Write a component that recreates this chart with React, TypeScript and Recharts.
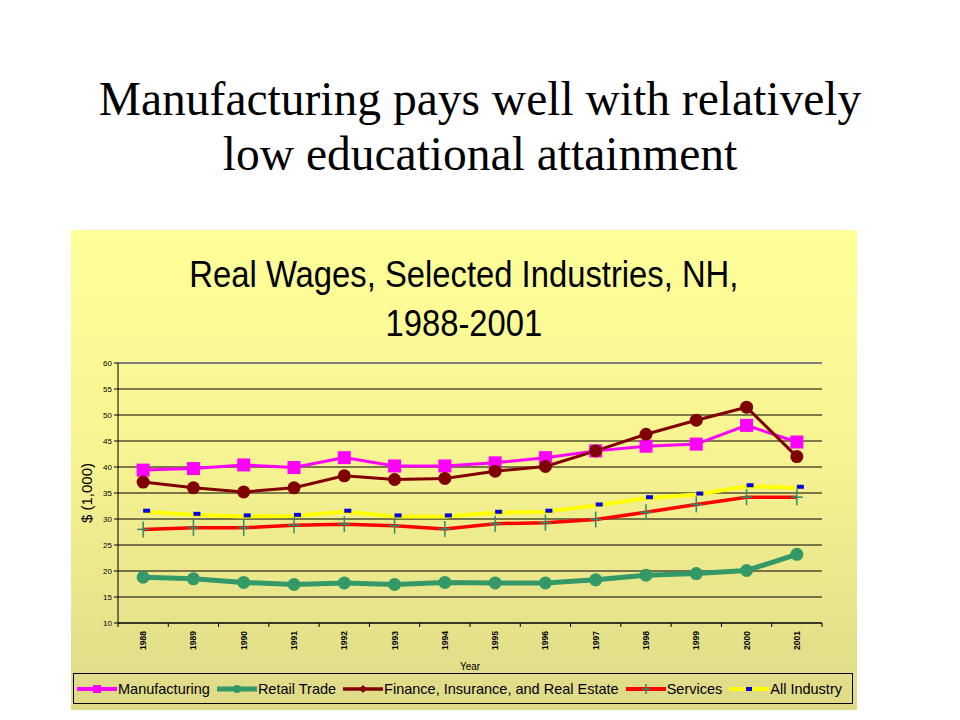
import React from 'react';
import {
  ComposedChart,
  Line,
  XAxis,
  YAxis,
  CartesianGrid,
  ReferenceLine,
  Legend,
  Label,
} from 'recharts';

const years = ['1988', '1989', '1990', '1991', '1992', '1993', '1994', '1995', '1996', '1997', '1998', '1999', '2000', '2001'];
const manufacturing = [39.4, 39.7, 40.4, 39.9, 41.8, 40.2, 40.2, 40.8, 41.8, 43.1, 44.0, 44.4, 48.0, 44.8];
const retailTrade = [18.8, 18.5, 17.8, 17.4, 17.7, 17.4, 17.8, 17.7, 17.7, 18.3, 19.2, 19.5, 20.1, 23.2];
const finance = [37.1, 36.0, 35.2, 36.0, 38.3, 37.6, 37.8, 39.2, 40.1, 43.1, 46.3, 49.0, 51.5, 42.0];
const services = [28.0, 28.3, 28.3, 28.8, 29.0, 28.7, 28.1, 29.1, 29.3, 29.9, 31.3, 32.8, 34.2, 34.2];
const allIndustry = [31.4, 30.8, 30.5, 30.6, 31.4, 30.5, 30.5, 31.2, 31.4, 32.6, 34.0, 34.7, 36.3, 36.0];
const yTicks = [10, 15, 20, 25, 30, 35, 40, 45, 50, 55, 60];

const data = years.map((year, i) => ({
  year,
  manufacturing: manufacturing[i],
  retailTrade: retailTrade[i],
  finance: finance[i],
  services: services[i],
  allIndustry: allIndustry[i],
}));

const SANS = '"Liberation Sans", Arial, sans-serif';
const SERIF = '"Liberation Serif", "Times New Roman", serif';

const CHART_W = 786;
const CHART_H = 480;
const MARGIN = { top: 133, right: 35, bottom: 47, left: 17 };
const Y_AXIS_W = 30;
const PLOT_W = CHART_W - MARGIN.left - MARGIN.right - Y_AXIS_W;
const HALF_BAND = PLOT_W / years.length / 2;

const C_MAN = '#FF00FF';
const C_RET = '#339966';
const C_FIN = '#800000';
const C_SER = '#FF0000';
const C_ALL = '#FFFF00';
const C_PLUS = '#2E8B6E';
const C_DASH = '#0000EE';

const SquareDot = (props: any) => {
  const { cx, cy, index } = props;
  if (cx == null || cy == null) return <g key={`s-${index}`} />;
  return <rect key={`s-${index}`} x={cx - 6.5} y={cy - 6.5} width={13} height={13} fill={C_MAN} />;
};

const makeCircleDot = (color: string, r: number) => (props: any) => {
  const { cx, cy, index } = props;
  if (cx == null || cy == null) return <g key={`c-${color}-${index}`} />;
  return <circle key={`c-${color}-${index}`} cx={cx} cy={cy} r={r} fill={color} />;
};

const PlusDot = (props: any) => {
  const { cx, cy, index } = props;
  if (cx == null || cy == null) return <g key={`p-${index}`} />;
  return (
    <g key={`p-${index}`}>
      <line x1={cx - 6} x2={cx + 6} y1={cy} y2={cy} stroke={C_PLUS} strokeWidth={1.5} />
      <line x1={cx} x2={cx} y1={cy - 8} y2={cy + 8} stroke={C_PLUS} strokeWidth={1.5} />
    </g>
  );
};

const DashDot = (props: any) => {
  const { cx, cy, index } = props;
  if (cx == null || cy == null) return <g key={`d-${index}`} />;
  return <rect key={`d-${index}`} x={cx} y={cy - 3} width={7} height={4} fill={C_DASH} />;
};

const XTick = (props: any) => {
  const { x, y, payload, index } = props;
  const top = y - 8;
  return (
    <g>
      <line x1={x - HALF_BAND} x2={x - HALF_BAND} y1={top} y2={top + 4} stroke="#000" strokeWidth={1} />
      {index === years.length - 1 && (
        <line x1={x + HALF_BAND} x2={x + HALF_BAND} y1={top} y2={top + 4} stroke="#000" strokeWidth={1} />
      )}
      <text
        x={x}
        y={top + 8}
        transform={`rotate(-90 ${x} ${top + 8})`}
        textAnchor="end"
        dominantBaseline="central"
        fontFamily={SANS}
        fontSize={8.5}
        fontWeight="bold"
        fill="#000"
      >
        {payload.value}
      </text>
    </g>
  );
};

const YLabel = (props: any) => {
  const vb = props.viewBox || {};
  const cx = (vb.x ?? 0) - 2;
  const cy = (vb.y ?? 0) + (vb.height ?? 0) / 2;
  return (
    <text
      x={cx}
      y={cy}
      transform={`rotate(-90 ${cx} ${cy})`}
      textAnchor="middle"
      dominantBaseline="central"
      fontFamily={SANS}
      fontSize={15}
      fill="#000"
    >
      $ (1,000)
    </text>
  );
};

const legendItems = [
  { name: 'Manufacturing', color: C_MAN, width: 4, marker: 'square' },
  { name: 'Retail Trade', color: C_RET, width: 5, marker: 'circle' },
  { name: 'Finance, Insurance, and Real Estate', color: C_FIN, width: 3.5, marker: 'diamond' },
  { name: 'Services', color: C_SER, width: 4, marker: 'plus' },
  { name: 'All Industry', color: C_ALL, width: 4, marker: 'dash' },
];

const LegendMarker = ({ item }: { item: any }) => {
  const w = 40;
  const cy = 8;
  const cx = w / 2;
  let marker: React.ReactNode = null;
  if (item.marker === 'square') marker = <rect x={cx - 4} y={cy - 4} width={8} height={8} fill={C_MAN} />;
  if (item.marker === 'circle') marker = <circle cx={cx} cy={cy} r={4} fill={C_RET} />;
  if (item.marker === 'diamond') marker = <polygon points={`${cx},${cy - 4} ${cx + 4},${cy} ${cx},${cy + 4} ${cx - 4},${cy}`} fill={C_FIN} />;
  if (item.marker === 'plus')
    marker = (
      <g>
        <line x1={cx - 4} x2={cx + 4} y1={cy} y2={cy} stroke={C_PLUS} strokeWidth={1.5} />
        <line x1={cx} x2={cx} y1={cy - 5} y2={cy + 5} stroke={C_PLUS} strokeWidth={1.5} />
      </g>
    );
  if (item.marker === 'dash') marker = <rect x={cx - 3} y={cy - 2} width={6} height={4} fill={C_DASH} />;
  return (
    <svg width={w} height={16} style={{ display: 'block' }}>
      <line x1={0} x2={w} y1={cy} y2={cy} stroke={item.color} strokeWidth={item.width} />
      {marker}
    </svg>
  );
};

const renderLegend = () => (
  <div
    style={{
      boxSizing: 'border-box',
      width: 780,
      height: 31,
      border: '1px solid #000',
      display: 'flex',
      alignItems: 'center',
      paddingLeft: 3,
      fontFamily: SANS,
      fontSize: 14.5,
      color: '#000',
      whiteSpace: 'nowrap',
    }}
  >
    {legendItems.map((item) => (
      <div key={item.name} style={{ display: 'flex', alignItems: 'center', marginRight: 7 }}>
        <LegendMarker item={item} />
        <span style={{ marginLeft: 1 }}>{item.name}</span>
      </div>
    ))}
  </div>
);

export default function App() {
  return (
    <div style={{ position: 'absolute', left: 0, top: 0, width: 960, height: 720, background: '#fff', overflow: 'hidden' }}>
      <div
        style={{
          position: 'absolute',
          left: 0,
          top: 72,
          width: 960,
          textAlign: 'center',
          fontFamily: SERIF,
          fontSize: 47.5,
          lineHeight: '55px',
          color: '#000',
        }}
      >
        Manufacturing pays well with relatively
        <br />
        low educational attainment
      </div>
      <div
        style={{
          position: 'absolute',
          left: 71,
          top: 230,
          width: CHART_W,
          height: CHART_H,
          background: 'linear-gradient(to bottom, #FFFF99 0%, #F7F492 45%, #DEDA88 100%)',
        }}
      >
        <div
          style={{
            position: 'absolute',
            left: 0,
            top: 20,
            width: 786,
            textAlign: 'center',
            fontFamily: SANS,
            fontSize: 37,
            lineHeight: '49px',
            color: '#000',
            transform: 'scaleX(0.886)',
            transformOrigin: '392px 0',
          }}
        >
          Real Wages, Selected Industries, NH,
          <br />
          1988-2001
        </div>
        <div style={{ position: 'absolute', left: 0, top: 0 }}>
          <ComposedChart width={CHART_W} height={CHART_H} data={data} margin={MARGIN}>
            <CartesianGrid horizontal vertical={false} stroke="#000" strokeWidth={1} />
            <ReferenceLine y={60} stroke="#808080" strokeWidth={2} />
            <XAxis
              dataKey="year"
              scale="band"
              height={40}
              tickLine={false}
              axisLine={{ stroke: '#000', strokeWidth: 1 }}
              tick={<XTick />}
              interval={0}
            >
              <Label
                value="Year"
                position="insideBottom"
                offset={-7}
                style={{ fontFamily: SANS, fontSize: 10, fill: '#000' }}
              />
            </XAxis>
            <YAxis
              yAxisId={0}
              width={Y_AXIS_W}
              domain={[10, 60]}
              ticks={yTicks}
              interval={0}
              tickSize={4}
              tickMargin={2}
              axisLine={{ stroke: '#000', strokeWidth: 1 }}
              tickLine={{ stroke: '#000' }}
              tick={{ fontFamily: SANS, fontSize: 8, fill: '#000' }}
            >
              <Label content={<YLabel />} />
            </YAxis>
            <YAxis
              yAxisId="border"
              orientation="right"
              width={0}
              domain={[10, 60]}
              tick={false}
              tickLine={false}
              axisLine={{ stroke: '#808080', strokeWidth: 2 }}
            />
            <Legend
              layout="horizontal"
              verticalAlign="middle"
              align="center"
              content={renderLegend}
              wrapperStyle={{ left: 2, top: 443, width: 780, height: 31 }}
            />
            <Line
              type="linear"
              dataKey="manufacturing"
              name="Manufacturing"
              stroke={C_MAN}
              strokeWidth={3}
              dot={SquareDot}
              activeDot={false}
              isAnimationActive={false}
            />
            <Line
              type="linear"
              dataKey="retailTrade"
              name="Retail Trade"
              stroke={C_RET}
              strokeWidth={5}
              dot={makeCircleDot(C_RET, 6.5)}
              activeDot={false}
              isAnimationActive={false}
            />
            <Line
              type="linear"
              dataKey="finance"
              name="Finance, Insurance, and Real Estate"
              stroke={C_FIN}
              strokeWidth={3}
              dot={makeCircleDot(C_FIN, 6.5)}
              activeDot={false}
              isAnimationActive={false}
            />
            <Line
              type="linear"
              dataKey="services"
              name="Services"
              stroke={C_SER}
              strokeWidth={3.5}
              dot={PlusDot}
              activeDot={false}
              isAnimationActive={false}
            />
            <Line
              type="linear"
              dataKey="allIndustry"
              name="All Industry"
              stroke={C_ALL}
              strokeWidth={4}
              dot={DashDot}
              activeDot={false}
              isAnimationActive={false}
            />
          </ComposedChart>
        </div>
      </div>
    </div>
  );
}
